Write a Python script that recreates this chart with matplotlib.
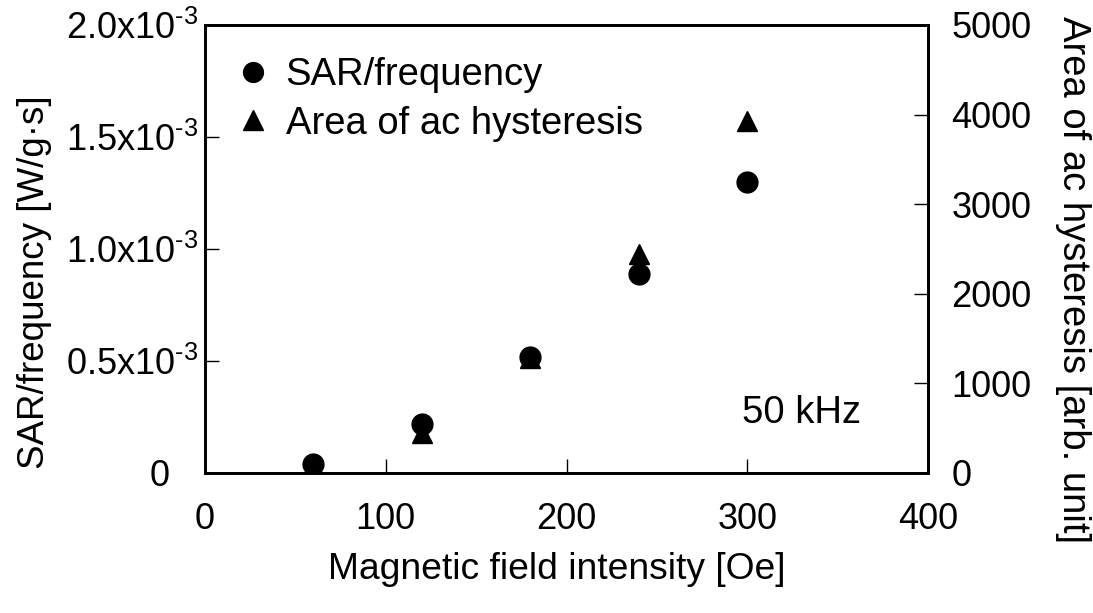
import matplotlib
matplotlib.use("Agg")
import matplotlib.pyplot as plt
from matplotlib.ticker import FixedLocator, FixedFormatter
from matplotlib.transforms import ScaledTranslation

plt.rcParams['font.family'] = ['Liberation Sans', 'DejaVu Sans']
plt.rcParams['mathtext.fontset'] = 'custom'
plt.rcParams['mathtext.rm'] = 'Liberation Sans'
plt.rcParams['mathtext.it'] = 'Liberation Sans'
plt.rcParams['mathtext.bf'] = 'Liberation Sans'

# Data
field = [60, 120, 180, 240, 300]
sar_per_freq = [0.04e-3, 0.22e-3, 0.52e-3, 0.89e-3, 1.30e-3]
hyst_area = [90, 450, 1280, 2440, 3930]

left_ticks = [0, 0.5e-3, 1.0e-3, 1.5e-3, 2.0e-3]
left_labels = ['0', r'$\mathregular{0.5x10^{\text{-}3}}$',
               r'$\mathregular{1.0x10^{\text{-}3}}$', r'$\mathregular{1.5x10^{\text{-}3}}$',
               r'$\mathregular{2.0x10^{\text{-}3}}$']
right_ticks = [0, 1000, 2000, 3000, 4000, 5000]
x_ticks = [0, 100, 200, 300, 400]

fs = 27.5
tfs = 26
fig = plt.figure(figsize=(10.93, 6.13), dpi=100)
ax = fig.add_axes([205/1093, 1-473/613, (928-205)/1093, (473-25)/613])
ax2 = ax.twinx()

ax.plot(field, sar_per_freq, 'o', color='black', ms=15, label='SAR/frequency', zorder=3)
ax2.plot(field, hyst_area, '^', color='black', ms=15, label='Area of ac hysteresis', zorder=3)

ax.set_xlim(0, 400)
ax.set_ylim(0, 2.0e-3)
ax2.set_ylim(0, 5000)

ax.xaxis.set_major_locator(FixedLocator(x_ticks))
ax.yaxis.set_major_locator(FixedLocator(left_ticks))
ax.yaxis.set_major_formatter(FixedFormatter(left_labels))
ax2.yaxis.set_major_locator(FixedLocator(right_ticks))

for a in (ax, ax2):
    for s in a.spines.values():
        s.set_linewidth(2)
ax.tick_params(axis='x', direction='in', length=10, width=1, labelsize=tfs, pad=21, top=False)
ax.tick_params(axis='y', direction='in', length=10, width=1, labelsize=tfs, pad=5)
ax2.tick_params(axis='y', direction='in', length=10, width=1, labelsize=tfs, pad=17)

# shift the "0" label left so it aligns with the mantissas of the other labels
t0 = ax.yaxis.get_major_ticks()[0].label1
t0.set_transform(t0.get_transform() + ScaledTranslation(-0.28, 0, fig.dpi_scale_trans))

ax.set_xlabel('Magnetic field intensity [Oe]', fontsize=26.8)
ax.xaxis.set_label_coords(0.487, -0.216)
ax.xaxis.label.set_va('center')
ax.set_ylabel('SAR/frequency [W/g·s]', fontsize=26.5)
ax.yaxis.set_label_coords(-0.236, 0.426)
ax.yaxis.label.set_va('center')
ax2.set_ylabel('Area of ac hysteresis [arb. unit]', fontsize=27.5, rotation=-90)
ax2.yaxis.set_label_coords(1.200, 0.431)
ax2.yaxis.label.set_va('center')

h1, l1 = ax.get_legend_handles_labels()
h2, l2 = ax2.get_legend_handles_labels()
leg = ax.legend(h1 + h2, l1 + l2, loc='upper left', fontsize=fs, frameon=False,
                bbox_to_anchor=(0.0456, 0.928), borderaxespad=0, borderpad=0,
                handlelength=0.8, handletextpad=0.45, markerscale=0.95,
                labelspacing=0.33)

ax.text(0.743, 0.134, '50 kHz', transform=ax.transAxes, fontsize=fs, ha='left', va='center')

fig.savefig('out.png', dpi=100)
